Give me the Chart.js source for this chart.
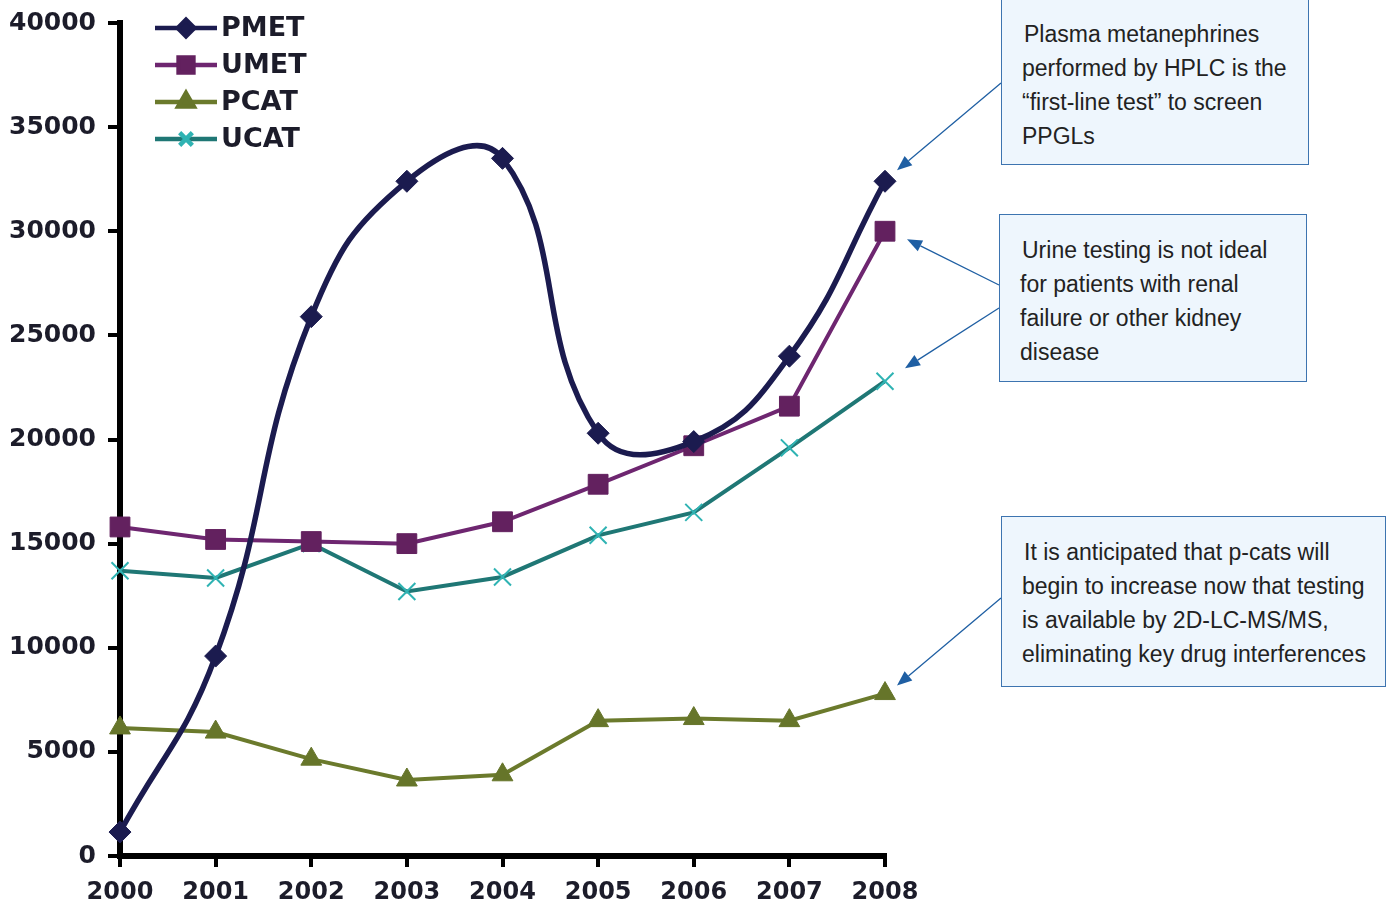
<!DOCTYPE html>
<html>
<head>
<meta charset="utf-8">
<script src="https://cdn.jsdelivr.net/npm/chart.js@4.4.1/dist/chart.umd.min.js"></script>
<style>
  body { margin: 0; background: #fff; }
  #wrap { position: relative; width: 1390px; height: 907px; }
  .note {
    position: absolute;
    background: #eef6fd;
    border: 1.5px solid #3d74b0;
    box-sizing: border-box;
    font-family: "Liberation Sans", Arial, sans-serif;
    font-size: 23px;
    line-height: 34px;
    color: #222;
    padding: 18px 8px 0 20px;
  }
  .note span { padding-left: 2px; }
</style>
</head>
<body>
<div id="wrap">
  <canvas id="trendChart"></canvas>
  <div class="note" style="left:1001px; top:-2px; width:308px; height:167px;"><span>Plasma metanephrines</span><br>performed by HPLC is the<br>“first-line test” to screen<br>PPGLs</div>
  <div class="note" style="left:999px; top:214px; width:308px; height:168px;"><span>Urine testing is not ideal</span><br>for patients with renal<br>failure or other kidney<br>disease</div>
  <div class="note" style="left:1001px; top:516px; width:385px; height:171px;"><span>It is anticipated that p-cats will</span><br>begin to increase now that testing<br>is available by 2D-LC-MS/MS,<br>eliminating key drug interferences</div>
</div>
<script>
const years = ['2000', '2001', '2002', '2003', '2004', '2005', '2006', '2007', '2008'];
const pmet = [1150, 9600, 25900, 32400, 33500, 20300, 19900, 24000, 32400];
const umet = [15800, 15200, 15100, 15000, 16050, 17850, 19700, 21600, 30000];
const pcat = [6150, 5950, 4650, 3650, 3900, 6500, 6600, 6500, 7800];
const ucat = [13700, 13350, 15000, 12700, 13400, 15400, 16500, 19600, 22800];
const yTicks = [0, 5000, 10000, 15000, 20000, 25000, 30000, 35000, 40000];

// arrows: tail on the note box, tip next to the 2008 point of a series
const arrows = [
  { series: 0, tail: [1001, 83], dx: 12, dy: -11 },
  { series: 1, tail: [999, 285], dx: 22, dy: 8 },
  { series: 3, tail: [999, 308], dx: 20, dy: -13 },
  { series: 2, tail: [1001, 598], dx: 12, dy: -8 }
];

const inkColor = '#1c1c2a';

const legendPlugin = {
  id: 'insideLegend',
  afterDatasetsDraw(chart) {
    const ctx = chart.ctx;
    const area = chart.chartArea;
    ctx.save();
    chart.data.datasets.forEach((ds, i) => {
      const y = area.top + 5 + i * 37;
      const x0 = area.left + 35;
      const x1 = area.left + 97;
      ctx.strokeStyle = ds.borderColor;
      ctx.lineWidth = 4.5;
      ctx.beginPath();
      ctx.moveTo(x0, y);
      ctx.lineTo(x1, y);
      ctx.stroke();
      ctx.fillStyle = ds.pointBackgroundColor;
      ctx.strokeStyle = ds.pointBorderColor;
      Chart.helpers.drawPoint(ctx, {
        pointStyle: ds.pointStyle,
        radius: ds.pointRadius * 0.75,
        rotation: 0,
        borderWidth: ds.pointBorderWidth
      }, (x0 + x1) / 2, y);
      ctx.fillStyle = inkColor;
      ctx.font = 'bold 27px "DejaVu Sans"';
      ctx.textBaseline = 'middle';
      ctx.fillText(ds.label, x1 + 4, y + 1);
    });
    ctx.restore();
  }
};

const arrowPlugin = {
  id: 'noteArrows',
  afterDraw(chart) {
    const ctx = chart.ctx;
    const xs = chart.scales.x;
    const ys = chart.scales.y;
    ctx.save();
    ctx.strokeStyle = '#1f5fa3';
    ctx.fillStyle = '#1f5fa3';
    ctx.lineWidth = 1.3;
    arrows.forEach(a => {
      const vals = chart.data.datasets[a.series].data;
      const last = vals.length - 1;
      const tx = xs.getPixelForValue(last) + a.dx;
      const ty = ys.getPixelForValue(vals[last]) + a.dy;
      const [sx, sy] = a.tail;
      const ang = Math.atan2(ty - sy, tx - sx);
      const len = 15, half = 6;
      const bx = tx - len * Math.cos(ang);
      const by = ty - len * Math.sin(ang);
      ctx.beginPath();
      ctx.moveTo(sx, sy);
      ctx.lineTo(bx, by);
      ctx.stroke();
      ctx.beginPath();
      ctx.moveTo(tx, ty);
      ctx.lineTo(bx + half * Math.sin(ang), by - half * Math.cos(ang));
      ctx.lineTo(bx - half * Math.sin(ang), by + half * Math.cos(ang));
      ctx.closePath();
      ctx.fill();
    });
    ctx.restore();
  }
};

new Chart(document.getElementById('trendChart'), {
  type: 'line',
  data: {
    labels: years,
    datasets: [
      {
        label: 'PMET',
        data: pmet,
        borderColor: '#1b1b4f',
        borderWidth: 5.5,
        tension: 0.45,
        pointStyle: 'rectRot',
        pointRadius: 11,
        pointBackgroundColor: '#1b1b4f',
        pointBorderColor: '#1b1b4f',
        pointBorderWidth: 1,
        clip: false
      },
      {
        label: 'UMET',
        data: umet,
        borderColor: '#6e2670',
        borderWidth: 4,
        tension: 0,
        pointStyle: 'rect',
        pointRadius: 14,
        pointBackgroundColor: '#63215f',
        pointBorderColor: '#63215f',
        pointBorderWidth: 1,
        clip: false
      },
      {
        label: 'PCAT',
        data: pcat,
        borderColor: '#6b7a2c',
        borderWidth: 4,
        tension: 0,
        pointStyle: 'triangle',
        pointRadius: 12,
        pointBackgroundColor: '#66752a',
        pointBorderColor: '#66752a',
        pointBorderWidth: 1,
        clip: false
      },
      {
        label: 'UCAT',
        data: ucat,
        borderColor: '#1f7775',
        borderWidth: 4,
        tension: 0,
        pointStyle: 'crossRot',
        pointRadius: 12,
        pointBackgroundColor: '#2fb3b3',
        pointBorderColor: '#2fb3b3',
        pointBorderWidth: 2,
        clip: false
      }
    ]
  },
  options: {
    responsive: true,
    maintainAspectRatio: false,
    animation: false,
    layout: { padding: { top: 23, right: 505, left: 0, bottom: 0 } },
    plugins: {
      legend: { display: false },
      tooltip: { enabled: false }
    },
    scales: {
      x: {
        offset: false,
        afterFit: s => { s.height = 51; },
        border: { display: true, color: '#000', width: 6 },
        grid: { display: true, drawOnChartArea: false, drawTicks: true, tickLength: 11, color: '#000', lineWidth: 4 },
        ticks: {
          color: inkColor,
          padding: 11,
          maxRotation: 0,
          font: { family: 'DejaVu Sans', weight: 'bold', size: 24 }
        }
      },
      y: {
        min: 0,
        max: 40000,
        afterFit: s => { s.width = 120; s.paddingTop = 0; },
        afterBuildTicks: s => { s.ticks = yTicks.map(v => ({ value: v })); },
        border: { display: true, color: '#000', width: 6 },
        grid: { display: true, drawOnChartArea: false, drawTicks: true, tickLength: 12, color: '#000', lineWidth: 4 },
        ticks: {
          color: inkColor,
          padding: 12,
          callback: v => String(v),
          font: { family: 'DejaVu Sans', weight: 'bold', size: 25 }
        }
      }
    }
  },
  plugins: [legendPlugin, arrowPlugin]
});
</script>
</body>
</html>
